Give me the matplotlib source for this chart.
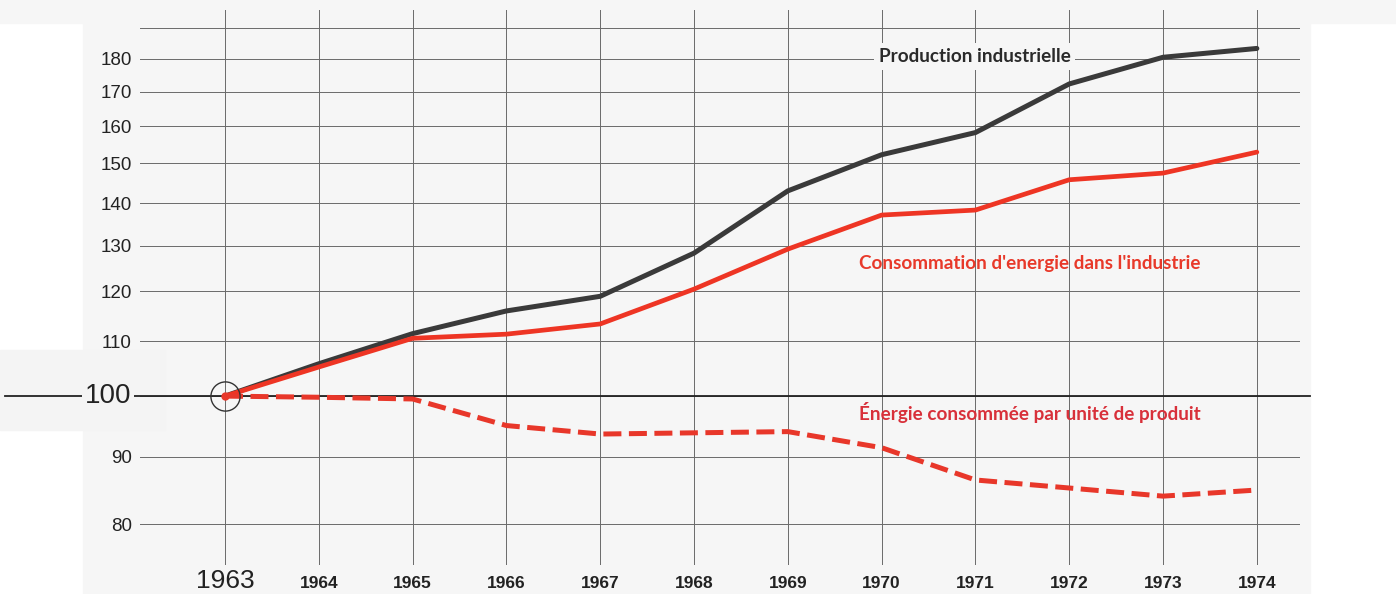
import numpy as np
import matplotlib
matplotlib.use("Agg")
import matplotlib.pyplot as plt
from matplotlib.patches import Rectangle

# indices, base 1963 = 100 (echelle logarithmique)
years = [1963, 1964, 1965, 1966, 1967, 1968, 1969, 1970, 1971, 1972, 1973, 1974]
production = [100, 105.8, 111.5, 116.0, 119.0, 128.3, 143.0, 152.3, 158.3, 172.3, 180.5, 183.3]
consommation = [100, 105.2, 110.6, 111.4, 113.4, 120.5, 129.2, 137.1, 138.3, 145.8, 147.5, 153.0]
par_unite = [100, 99.8, 99.5, 95.0, 93.6, 93.8, 94.0, 91.4, 86.4, 85.2, 84.0, 84.9]

ytick_vals = [80, 90, 100, 110, 120, 130, 140, 150, 160, 170, 180, 190]
ytick_labels = ["80", "90", "", "110", "120", "130", "140", "150", "160", "170", "180", ""]

W, H = 1396, 594
fig = plt.figure(figsize=(W / 100, H / 100), dpi=100)
fig.patch.set_facecolor("white")

def px(x0, y0, x1, y1):
    # pixel box -> figure fraction (left, bottom, width, height)
    return (x0 / W, 1 - y1 / H, (x1 - x0) / W, (y1 - y0) / H)

# fond gris du papier
for box, col in [((83, 0, 1310, 594), "#f6f6f6"),
                 ((0, 0, W, 23), "#f6f6f6"),
                 ((0, 350, 165, 430), "#f4f4f4")]:
    l, b, w, h = px(*box)
    fig.patches.append(Rectangle((l, b), w, h, transform=fig.transFigure, color=col, zorder=-10))

ax = fig.add_axes(px(140, 10, 1300, 565))
ax.set_facecolor("none")
ax.set_yscale("log")
ax.set_xlim(1962.094, 1974.46)
ax.set_ylim(74.5, 196.0)

ax.set_yticks(ytick_vals)
ax.set_yticklabels(ytick_labels)
ax.yaxis.set_minor_locator(matplotlib.ticker.NullLocator())
ax.set_xticks(years)
ax.set_xticklabels([str(y) for y in years])
ax.tick_params(length=0)
ax.tick_params(axis="y", pad=6, labelsize=13.5, labelcolor="#222222")
ax.tick_params(axis="x", pad=8, labelcolor="#222222")
for lab in ax.get_yticklabels():
    lab.set_family("Liberation Sans")
for i, lab in enumerate(ax.get_xticklabels()):
    if i == 0:
        lab.set_family("Liberation Sans")
        lab.set_fontsize(19)
        lab.set_y(0.012)
    else:
        lab.set_family(["Liberation Sans Narrow", "Liberation Sans"])
        lab.set_fontweight("bold")
        lab.set_fontsize(12.5)

ax.grid(True, color="#6a6a6a", linewidth=0.7)
for s in ax.spines.values():
    s.set_visible(False)

# ligne de base 100, plus longue que la grille
ax.plot([1960.655, 1974.567], [100, 100], color="#222222", lw=1.3, clip_on=False, zorder=3)
ax.text(1961.753, 100, "100", fontsize=20, family="Liberation Sans", color="#222222",
        ha="center", va="center", zorder=4,
        bbox=dict(boxstyle="square,pad=0.1", fc="#f4f4f4", ec="none"))

ax.plot(years, production, color="#3a3a3a", lw=3.6, solid_capstyle="round", zorder=5)
ax.plot(years, consommation, color="#ee3524", lw=3.4, solid_capstyle="round", zorder=5)
ax.plot(years, par_unite, color="#e8372a", lw=3.6, dashes=(3.6, 1.5), zorder=5)

ax.plot(years[0], 100, marker="o", ms=21, mfc="none", mec="#333333", mew=1.0, zorder=6)
ax.plot(years[0], 100, marker="o", ms=6, mfc="#e8372a", mec="none", zorder=7)

ax.text(1969.97, 180.8, "Production industrielle", fontsize=13.6, family="Lato",
        fontweight="bold", color="#2a2a2a", ha="left", va="center", zorder=4,
        bbox=dict(boxstyle="square,pad=0.25", fc="#f6f6f6", ec="none"))
ax.text(1969.76, 126.1, "Consommation d'energie dans l'industrie", fontsize=13.6, family="Lato",
        fontweight="bold", color="#e8392a", ha="left", va="center", zorder=4)
ax.text(1969.76, 97.25, "Énergie consommée par unité de produit", fontsize=13.6, family="Lato",
        fontweight="bold", color="#d8303a", ha="left", va="center", zorder=4)

fig.savefig("out.png", dpi=100, facecolor=fig.get_facecolor())
